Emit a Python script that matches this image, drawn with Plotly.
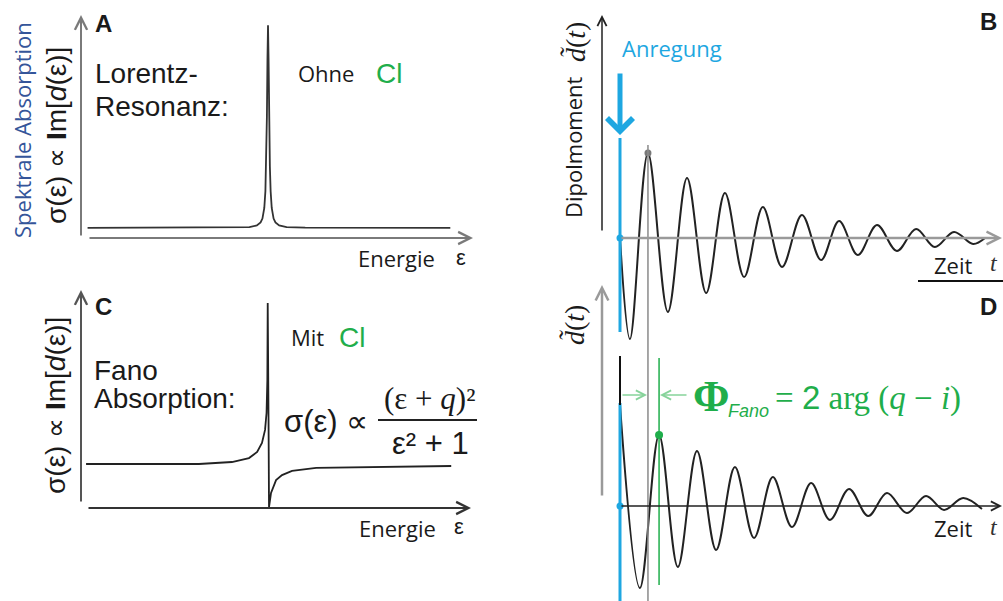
import plotly.graph_objects as go

W, H = 1003, 601
def PX(x): return x / W
def PY(y): return 1 - y / H

# ---------------- data ----------------
# Panel A: Lorentz resonance (energy eps, absorption sigma)
eps_A = [-4.85, -1.0, -0.5, -0.3, -0.2, -0.15, -0.1, -0.07, -0.05, -0.03, -0.015, 0.0,
         0.015, 0.03, 0.05, 0.07, 0.1, 0.15, 0.2, 0.3, 0.5, 1.0, 4.9]
sig_A = [0.05, 0.051, 0.054, 0.062, 0.077, 0.096, 0.148, 0.232, 0.353, 0.598, 0.879, 1.05,
         0.879, 0.598, 0.353, 0.232, 0.148, 0.096, 0.077, 0.062, 0.054, 0.051, 0.05]

# Panel C: Fano profile
eps_C = [-4.89, -1.85, -0.96, -0.50, -0.28, -0.15, -0.067, -0.027, -0.005, 0.005,
         0.027, 0.04, 0.094, 0.23, 0.39, 0.66, 1.31, 2.65, 4.95]
sig_C = [0.222, 0.222, 0.232, 0.252, 0.283, 0.328, 0.394, 0.479, 0.646, 1.034,
         0.444, 0.005, 0.076, 0.141, 0.166, 0.187, 0.202, 0.207, 0.212]

# Panel B: dipole moment without CI (time in oscillation periods)
t_B = [0.0, 0.26, 0.73, 1.25, 1.75, 2.25, 2.74, 3.24, 3.73, 4.23, 4.75, 5.25,
       5.72, 6.21, 6.71, 7.23, 7.73, 8.22, 8.72, 9.22, 9.53]
d_B = [0.0, -1.01, 0.85, -0.74, 0.60, -0.55, 0.45, -0.39, 0.31, -0.29, 0.23, -0.22,
       0.17, -0.17, 0.13, -0.13, 0.09, -0.09, 0.06, -0.06, 0.0]

# Panel D: dipole moment with CI
t_D = [0.0, 0.52, 1.02, 1.51, 2.01, 2.51, 3.0, 3.50, 3.99, 4.49, 4.99, 5.48,
       5.98, 6.48, 6.97, 7.49, 7.99, 8.46, 8.96, 9.45]
d_D = [1.01, -0.82, 0.71, -0.61, 0.55, -0.44, 0.39, -0.32, 0.29, -0.21, 0.23, -0.14,
       0.17, -0.10, 0.13, -0.07, 0.10, -0.04, 0.08, -0.03]

# ---------------- styling ----------------
BLUE = '#1ea7e1'
GREEN = '#1fae4b'
LGREEN = '#86d39a'
CURVE = '#222222'
SANS = 'Liberation Sans'
CAL = 'Open Sans'
SERIF = 'Liberation Serif'

fig = go.Figure()

fig.add_trace(go.Scatter(x=eps_A, y=sig_A, xaxis='x', yaxis='y', mode='lines',
                         line=dict(color='#333333', width=1.8), hoverinfo='skip'))
fig.add_trace(go.Scatter(x=eps_C, y=sig_C, xaxis='x3', yaxis='y3', mode='lines',
                         line=dict(color='#222222', width=1.8), hoverinfo='skip'))
fig.add_trace(go.Scatter(x=t_B, y=d_B, xaxis='x2', yaxis='y2', mode='lines',
                         line=dict(color=CURVE, width=2, shape='spline'), hoverinfo='skip'))
fig.add_trace(go.Scatter(x=t_D, y=d_D, xaxis='x4', yaxis='y4', mode='lines',
                         line=dict(color=CURVE, width=2, shape='spline'), hoverinfo='skip'))

# markers
fig.add_trace(go.Scatter(x=[t_B[0]], y=[0], xaxis='x2', yaxis='y2', mode='markers',
                         marker=dict(color=BLUE, size=7), hoverinfo='skip'))
fig.add_trace(go.Scatter(x=[t_D[0]], y=[0], xaxis='x4', yaxis='y4', mode='markers',
                         marker=dict(color=BLUE, size=7), hoverinfo='skip'))
fig.add_trace(go.Scatter(x=[t_B[2]], y=[d_B[2]], xaxis='x2', yaxis='y2', mode='markers',
                         marker=dict(color='#777777', size=7), hoverinfo='skip'))
fig.add_trace(go.Scatter(x=[t_D[2]], y=[d_D[2]], xaxis='x4', yaxis='y4', mode='markers',
                         marker=dict(color=GREEN, size=8), hoverinfo='skip'))

ax_common = dict(visible=False, fixedrange=True)
fig.update_layout(
    width=W, height=H, margin=dict(l=0, r=0, t=0, b=0),
    paper_bgcolor='white', plot_bgcolor='rgba(0,0,0,0)', showlegend=False,
    xaxis=dict(domain=[PX(82), PX(473)], range=[-5, 5.51], anchor='y', **ax_common),
    yaxis=dict(domain=[PY(238), PY(15)], range=[0, 1.1], anchor='x', **ax_common),
    xaxis3=dict(domain=[PX(82), PX(472)], range=[-5, 5.51], anchor='y3', **ax_common),
    yaxis3=dict(domain=[PY(508), PY(290)], range=[0, 1.1], anchor='x3', **ax_common),
    xaxis2=dict(domain=[PX(602), 1.0], range=[-0.47, 10.0], anchor='y2', **ax_common),
    yaxis2=dict(domain=[PY(345), 1.0], range=[-1.07, 2.38], anchor='x2', **ax_common),
    xaxis4=dict(domain=[PX(602), 1.0], range=[-0.47, 10.0], anchor='y4', **ax_common),
    yaxis4=dict(domain=[0.0, PY(280)], range=[-0.95, 2.26], anchor='x4', **ax_common),
)

shapes = []
def vline(xref, x, y0, y1, color, width):
    shapes.append(dict(type='line', xref=xref, yref='paper', x0=x, x1=x,
                       y0=PY(y0), y1=PY(y1), line=dict(color=color, width=width)))
# excitation (blue) lines at t=0
vline('x2', t_B[0], 138, 332, BLUE, 3)
vline('x4', t_D[0], 403, 601, BLUE, 3)
# gray line at first maximum of B
vline('x2', t_B[2], 145, 601, '#8a8a8a', 1.5)
# green line at first maximum of D
vline('x4', t_D[2], 358, 585, GREEN, 1.5)
# black start segment in D
shapes.append(dict(type='line', xref='x4', yref='y4', x0=t_D[0], x1=t_D[0],
                   y0=d_D[0], y1=1.5, line=dict(color='#111111', width=2)))
# underline separator right of B
shapes.append(dict(type='line', xref='paper', yref='paper', x0=PX(918), x1=1.0,
                   y0=PY(281), y1=PY(281), line=dict(color='#111111', width=2)))
# fraction bar
shapes.append(dict(type='line', xref='paper', yref='paper', x0=PX(378), x1=PX(477),
                   y0=PY(420), y1=PY(420), line=dict(color='#222222', width=2)))
fig.update_layout(shapes=shapes)

ann = []
def arrow(hx, hy, tx, ty, color, width=1.5, head=5, size=1.2):
    ann.append(dict(x=PX(hx), y=PY(hy), xref='paper', yref='paper', text='',
                    showarrow=True, axref='pixel', ayref='pixel',
                    ax=tx - hx, ay=ty - hy, arrowhead=head, arrowsize=size,
                    arrowwidth=width, arrowcolor=color, standoff=0, startstandoff=0))

def txt(x, y, text, size, color='#1a1a1a', family=SANS, angle=0, xanchor='center'):
    ann.append(dict(x=PX(x), y=PY(y), xref='paper', yref='paper', text=text,
                    showarrow=False, textangle=angle, xanchor=xanchor, yanchor='middle',
                    font=dict(size=size, color=color, family=family)))

# axis arrows
arrow(81, 15, 81, 237, '#7a7a7a', 2)
arrow(473, 238, 88, 238, '#7a7a7a', 2)
arrow(81, 290, 81, 503, '#555555', 2)
arrow(471, 508, 87, 508, '#333333', 2)
arrow(602, 15, 602, 232, '#222222', 1.5)
arrow(1002, 238, 620, 238, '#9a9a9a', 2.5, size=1.0)
arrow(602, 285, 602, 497, '#9a9a9a', 2.5, size=1.0)
arrow(1002, 506, 620, 506, '#222222', 1.5)
# excitation arrow
arrow(620, 135, 620, 72, BLUE, 5, head=4, size=1.0)
# phase arrows
arrow(647, 395, 621, 395, LGREEN, 1.5, head=5, size=1.2)
arrow(660, 395, 688, 395, LGREEN, 1.5, head=5, size=1.2)

# panel letters
txt(103, 24, '<b>A</b>', 24)
txt(988, 22, '<b>B</b>', 24)
txt(103, 306, '<b>C</b>', 24)
txt(988, 306, '<b>D</b>', 24)

# panel A texts
txt(93, 73, 'Lorentz-', 28, xanchor='left')
txt(93, 106, 'Resonanz:', 28, xanchor='left')
txt(326, 73, 'Ohne', 22, family=CAL)
txt(389, 73, 'Cl', 28, color=GREEN)
txt(396, 258, 'Energie', 22, family=CAL)
txt(461, 257, 'ε', 22)
txt(22, 130, 'Spektrale Absorption', 22, color='#34559a', family=CAL, angle=-90)
txt(56, 136, 'σ(ε) ∝ <b>I</b>m[<i>d</i>(ε)]', 28, angle=-90)

# panel C texts
txt(92, 370, 'Fano', 28, xanchor='left')
txt(92, 398, 'Absorption:', 28, xanchor='left')
txt(307, 337, 'Mit', 22, family=CAL)
txt(352, 338, 'Cl', 28, color=GREEN)
txt(397, 528, 'Energie', 22, family=CAL)
txt(459, 526, 'ε', 22)
txt(55, 406, 'σ(ε) ∝ <b>I</b>m[<i>d</i>(ε)]', 28, angle=-90)
txt(326, 421, 'σ(ε) ∝', 31)
txt(429, 398, '(ε + <i>q</i>)²', 31, family=SERIF)
txt(430, 443, 'ε² + 1', 31)

# panel B texts
txt(672, 48, 'Anregung', 22, color=BLUE, family=CAL)
txt(573, 147, 'Dipolmoment', 22, family=CAL, angle=-90)
txt(576, 42, '<i>d̃</i>(<i>t</i>)', 28, family=SERIF, angle=-90)
txt(953, 265, 'Zeit', 22, family=CAL)
txt(994, 263, '<i>t</i>', 24, color='#333333', family=SERIF)

# panel D texts
txt(574, 325, '<i>d̃</i>(<i>t</i>)', 28, family=SERIF, angle=-90)
txt(953, 528, 'Zeit', 22, family=CAL)
txt(994, 527, '<i>t</i>', 24, color='#333333', family=SERIF)
txt(711, 396, '<b>Φ</b>', 44, color=GREEN, family=SERIF)
txt(748, 411, '<i>Fano</i>', 18, color=GREEN, family=SANS)
txt(773, 398, '= <span style="font-family:Liberation Sans">2</span> arg (<i>q</i> − <i>i</i>)',
    33, color=GREEN, family=SERIF, xanchor='left')

fig.update_layout(annotations=ann)
fig.write_html('out.html')
